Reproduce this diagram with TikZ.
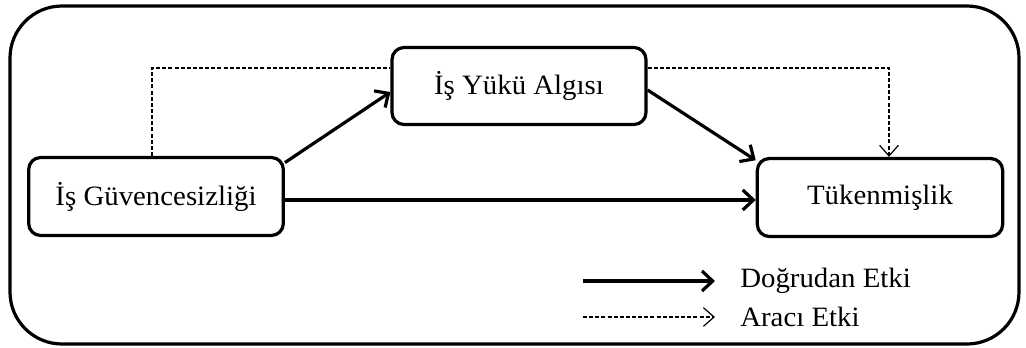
\documentclass[tikz,border=0pt]{standalone}
\usepackage{fontspec}
\setmainfont[FakeStretch=1.03]{Liberation Serif}
\usetikzlibrary{arrows.meta}
\begin{document}
\begin{tikzpicture}[x=0.75pt,y=-0.75pt,
 box/.style={draw, line width=2.4pt, rounded corners=9pt, inner sep=0pt, font=\fontsize{21}{24}\selectfont},
 direct/.style={line width=2.4pt, -{Straight Barb[length=8pt,width=15pt,line width=2.4pt]}},
 mediated/.style={line width=0.9pt, dash pattern=on 3pt off 1.6pt, -{Straight Barb[length=8pt,width=14pt,line width=0.9pt]}},
 lbl/.style={font=\fontsize{21}{24}\selectfont, inner sep=0pt, anchor=west}]
\useasboundingbox (0,0) rectangle (1026,347);
\draw[line width=2.4pt, rounded corners=39pt] (10,6) rectangle (1019,344);
\node[box, minimum width=191pt, minimum height=58.5pt] (IG) at (156,196.5) {İş Güvencesizliği};
\node[box, minimum width=190.5pt, minimum height=57.75pt] (IYA) at (519,86) {İş Yükü Algısı};
\node[box, minimum width=184pt, minimum height=58.5pt] (T) at (880,197.5) {Tükenmişlik};
\draw[mediated, -] ([xshift=-3pt]IG.north) |- ([yshift=13.5pt]IYA.west);
\draw[mediated] ([yshift=13.5pt]IYA.east) -| ([xshift=6.75pt]T.north);
\draw[direct] ([yshift=-5pt]IG.north east) -- ([yshift=-4.5pt]IYA.west);
\draw[direct] ([yshift=-3pt]IYA.east) -- ([yshift=-2.5pt]T.north west);
\draw[direct] ([yshift=-2.6pt]IG.east) -- ([yshift=-2.6pt]IG.east -| T.west);
\coordinate (l1a) at (583,281);
\coordinate (l1b) at (715,281);
\coordinate (l2a) at (583,317);
\coordinate (l2b) at (715,317);
\draw[direct] (l1a) -- (l1b);
\draw[mediated] (l2a) -- (l2b);
\node[lbl] (d) at (740,281) {Doğrudan Etki};
\node[lbl] (a) at (740,317) {Aracı Etki};
\end{tikzpicture}
\end{document}
